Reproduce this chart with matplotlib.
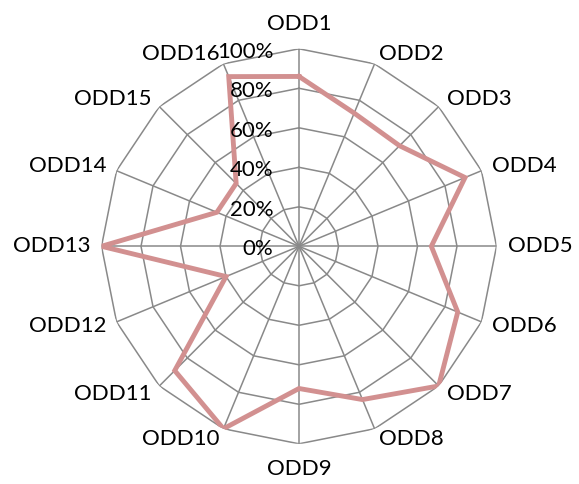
import numpy as np
import matplotlib
matplotlib.use("Agg")
import matplotlib.pyplot as plt

categories = ["ODD1", "ODD2", "ODD3", "ODD4", "ODD5", "ODD6", "ODD7", "ODD8",
              "ODD9", "ODD10", "ODD11", "ODD12", "ODD13", "ODD14", "ODD15", "ODD16"]
values = [0.86, 0.73, 0.72, 0.91, 0.67, 0.87, 1.00, 0.84,
          0.72, 1.00, 0.89, 0.40, 1.00, 0.45, 0.45, 0.93]
levels = [0.0, 0.2, 0.4, 0.6, 0.8, 1.0]
level_labels = ["0%", "20%", "40%", "60%", "80%", "100%"]

FONT = ["Lato", "DejaVu Sans"]
plt.rcParams["font.family"] = FONT

W, H = 579, 484
fig = plt.figure(figsize=(W / 100, H / 100), dpi=100)
cx, cy, R = 299.0, 484 - 246.3, 197.5
ax = fig.add_axes([(cx - R) / W, (cy - R) / H, 2 * R / W, 2 * R / H], projection="polar")
ax.set_theta_zero_location("N")
ax.set_theta_direction(-1)
ax.set_ylim(0, 1)
ax.grid(False)
ax.spines["polar"].set_visible(False)
ax.set_xticks([])
ax.set_yticks([])
ax.patch.set_alpha(0)

n = len(categories)
theta = np.arange(n) * 2 * np.pi / n
theta_closed = np.append(theta, theta[0])

grid_color = "#898989"
for lv in levels[1:]:
    ax.plot(theta_closed, [lv] * (n + 1), color=grid_color, lw=1.1, zorder=1)
for t in theta:
    ax.plot([t, t], [0, 1], color=grid_color, lw=1.1, zorder=1)

vals_closed = np.append(values, values[0])
ax.plot(theta_closed, vals_closed, color="#D29090", lw=3.5, zorder=3,
        solid_joinstyle="miter")

for lv, lab in zip(levels, level_labels):
    ax.annotate(lab, xy=(0, lv), xytext=(-18.5, -2.2), textcoords="offset points",
                ha="right", va="center", fontsize=16, color="black", zorder=4,
                annotation_clip=False)

for t, lab in zip(theta, categories):
    s, c = np.sin(t), np.cos(t)
    if s > 0.05:
        ha = "left"
    elif s < -0.05:
        ha = "right"
    else:
        ha = "center"
    if abs(s) < 0.05:
        va = "bottom" if c > 0 else "top"
        off = 11
    else:
        va = "center"
        off = 8
    ax.annotate(lab, xy=(t, 1.0), xytext=(off * s, off * c), textcoords="offset points",
                ha=ha, va=va, fontsize=16, color="black", annotation_clip=False)

fig.savefig("out.png", dpi=100)
